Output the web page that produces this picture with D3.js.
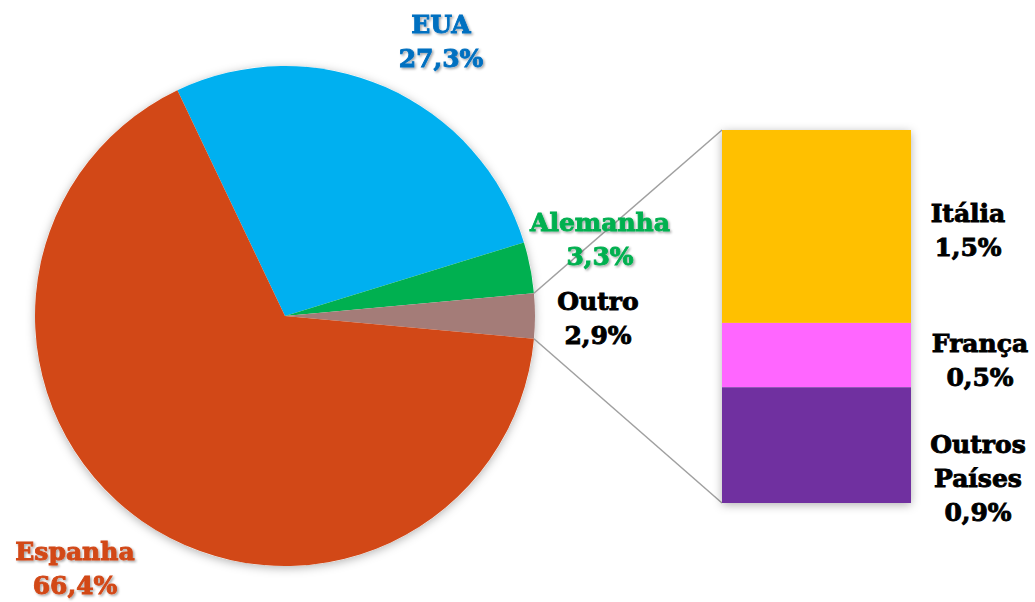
<!DOCTYPE html>
<html>
<head>
<meta charset="utf-8">
<script src="https://cdn.jsdelivr.net/npm/d3@7"></script>
<style>
    body { margin: 0; background: #fff; }
    text { font-family: Rockwell, "DejaVu Serif", serif; font-weight: bold; font-size: 25px; }
</style>
</head>
<body>
<div id="container"></div>
<script>
// main pie, clockwise from EUA
const pieNames = ["EUA", "Alemanha", "Outro", "Espanha"];
const pieValues = [27.3, 3.3, 2.9, 66.4];
const pieColors = ["#00B0F0", "#00B050", "#A47C78", "#D24817"];
const labelColors = ["#0070C0", "#00B050", "#000000", "#D24817"];

// breakdown of "Outro", top to bottom
const barNames = ["Itália", "França", "Outros Países"];
const barValues = [1.5, 0.5, 0.9];
const barColors = ["#FFC000", "#FF66FF", "#7030A0"];

const w = 1035, h = 602;
const cx = 285, cy = 316, radius = 250;
const bar = {x0: 722, x1: 911, y0: 130, y1: 503};

let svg = d3.select("#container")
    .append("svg")
    .attr("width", w)
    .attr("height", h);

let defs = svg.append("defs");
let shadow = defs.append("filter").attr("id", "shadow")
    .attr("x", "-20%").attr("y", "-20%").attr("width", "140%").attr("height", "140%");
shadow.append("feDropShadow")
    .attr("dx", 0).attr("dy", 2)
    .attr("stdDeviation", 5)
    .attr("flood-color", "#000")
    .attr("flood-opacity", 0.3);

let txtShadow = defs.append("filter").attr("id", "txtshadow");
txtShadow.append("feDropShadow")
    .attr("dx", 1.5).attr("dy", 1.5)
    .attr("stdDeviation", 1)
    .attr("flood-color", "#000")
    .attr("flood-opacity", 0.35);

// Outro slice centred on 3 o'clock
const total = d3.sum(pieValues);
const before = pieValues[0] + pieValues[1] + pieValues[2] / 2;
const start = Math.PI / 2 - 2 * Math.PI * before / total;

const pie = d3.pie()
    .sort(null)
    .startAngle(start)
    .endAngle(start + 2 * Math.PI);
const arcs = pie(pieValues);
const arc = d3.arc().innerRadius(0).outerRadius(radius);

let pieG = svg.append("g")
    .attr("transform", "translate(" + cx + "," + cy + ")");

pieG.append("circle")
    .attr("r", radius)
    .attr("fill", "#fff")
    .attr("filter", "url(#shadow)");

pieG.selectAll("path")
    .data(arcs)
    .enter()
    .append("path")
    .attr("d", arc)
    .attr("fill", (d, i) => pieColors[i]);

// stacked bar for Outro
const yScale = d3.scaleLinear()
    .domain([0, d3.sum(barValues)])
    .range([bar.y0, bar.y1]);
const stacked = d3.cumsum(barValues);

// connector lines from Outro slice edges to the bar corners
const outro = arcs[2];
const pt = (a) => [cx + radius * Math.sin(a), cy - radius * Math.cos(a)];
const pTop = pt(outro.startAngle), pBot = pt(outro.endAngle);
svg.append("line")
    .attr("x1", pTop[0]).attr("y1", pTop[1])
    .attr("x2", bar.x0).attr("y2", yScale(0))
    .attr("stroke", "#A0A0A0").attr("stroke-width", 1.5);
svg.append("line")
    .attr("x1", pBot[0]).attr("y1", pBot[1])
    .attr("x2", bar.x0).attr("y2", yScale(d3.sum(barValues)))
    .attr("stroke", "#A0A0A0").attr("stroke-width", 1.5);

svg.append("rect")
    .attr("x", bar.x0).attr("y", bar.y0)
    .attr("width", bar.x1 - bar.x0)
    .attr("height", bar.y1 - bar.y0)
    .attr("fill", "#fff")
    .attr("filter", "url(#shadow)");

svg.selectAll("rect.seg")
    .data(barValues)
    .enter()
    .append("rect")
    .attr("class", "seg")
    .attr("x", bar.x0)
    .attr("y", (d, i) => yScale(stacked[i] - d))
    .attr("width", bar.x1 - bar.x0)
    .attr("height", (d) => yScale(d) - yScale(0))
    .attr("fill", (d, i) => barColors[i]);

// labels
const fmt = (v) => v.toFixed(1).replace(".", ",") + "%";
const pieLabelPos = [[441, 33], [600, 231], [598, 310], [75, 560]];
const barLabelPos = [[968, 222], [980, 352], [978, 453]];

function addLabel(lines, pos, color, glow) {
    let t = svg.append("text")
        .attr("text-anchor", "middle")
        .attr("fill", color)
        .attr("stroke", color)
        .attr("stroke-width", 0.9);
    if (glow) t.attr("filter", "url(#txtshadow)");
    lines.forEach((l, i) => {
        t.append("tspan")
            .attr("x", pos[0])
            .attr("y", pos[1] + i * 34)
            .text(l);
    });
}

pieNames.forEach((n, i) => {
    addLabel([n, fmt(pieValues[i])], pieLabelPos[i], labelColors[i], i !== 2);
});
barNames.forEach((n, i) => {
    const lines = n === "Outros Países" ? ["Outros", "Países"] : [n];
    addLabel(lines.concat([fmt(barValues[i])]), barLabelPos[i], "#000", false);
});
</script>
</body>
</html>
